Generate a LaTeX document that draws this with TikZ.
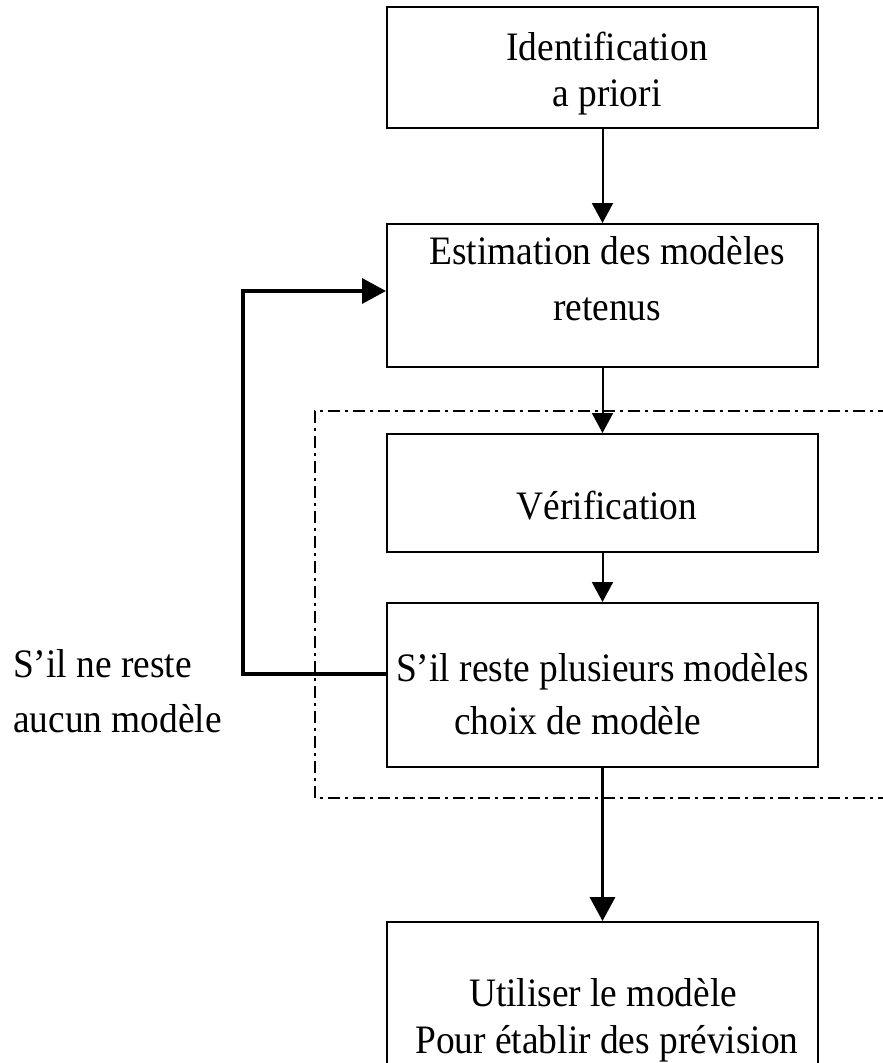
\documentclass[tikz,border=0pt]{standalone}
\usepackage{fontspec}
\usepackage{graphicx}
\setmainfont{Liberation Serif}
\usetikzlibrary{arrows.meta}
% slightly taller glyphs for the labels
\newcommand\tallline[1]{\scalebox{1}[1.08]{#1}}
\tikzset{
  stage/.style={draw, line width=2pt, rectangle, inner sep=0pt, minimum width=431pt},
  txt/.style={anchor=base, inner sep=0pt, font=\fontsize{37.4}{44}\selectfont},
  flow/.style={line width=2pt, -{Triangle[length=20pt,width=21pt]}},
  heavy/.style={line width=3.5pt, -{Triangle[length=24pt,width=25pt]}},
  frame/.style={line width=2pt, dash pattern=on 12pt off 5pt on 3pt off 5pt}
}
\begin{document}
\begin{tikzpicture}[x=1pt,y=-1pt]
\useasboundingbox (0,0) rectangle (883,1063);
\clip (0,0) rectangle (883,1063);

% dash-dot frame, open on the right
\coordinate (fTR) at (890,411);
\coordinate (fTL) at (315,411);
\coordinate (fBL) at (315,798);
\coordinate (fBR) at (890,798);
\draw[frame] (fTR) -- (fTL) -- (fBL) -- (fBR);

% stages
\node[stage, minimum height=121pt] (b1) at (602.5,67.5) {};
\node[stage, minimum height=143pt] (b2) at (602.5,295.5) {};
\node[stage, minimum height=118pt] (b3) at (602.5,493) {};
\node[stage, minimum height=164pt] (b4) at (602.5,685) {};
\node[stage, minimum height=160pt] (b5) at (602.5,1002) {};

% texts
\node[txt] (t1a) at (607,60) {\tallline{Identification}};
\node[txt] (t1b) at (607,106) {\tallline{a priori}};
\node[txt] (t2a) at (607,264) {\tallline{Estimation des modèles}};
\node[txt] (t2b) at (607,320) {\tallline{retenus}};
\node[txt] (t3) at (607,519) {\tallline{Vérification}};
\node[txt, anchor=base west] (t4a) at (396,681) {\tallline{S’il reste plusieurs modèles}};
\node[txt, anchor=base west] (t4b) at (454,734) {\tallline{choix de modèle}};
\node[txt] (t5a) at (603,1006) {\tallline{Utiliser le modèle}};
\node[txt] (t5b) at (607,1053) {\tallline{Pour établir des prévision}};
\node[txt, anchor=base west] (la) at (13,677) {\tallline{S’il ne reste}};
\node[txt, anchor=base west] (lb) at (13,732) {\tallline{aucun modèle}};

% connectors
\draw[flow] (b1) -- (b2);
\draw[flow] (b2) -- (b3);
\draw[flow] (b3) -- (b4);
\draw[heavy] (b4) -- (b5);

% feedback loop
\coordinate (fbLow) at (243,674);
\coordinate (fbHigh) at (243,291);
\draw[heavy] (b4.west |- fbLow) -- (fbLow) -- (fbHigh) -- (b2.west |- fbHigh);
\end{tikzpicture}
\end{document}
